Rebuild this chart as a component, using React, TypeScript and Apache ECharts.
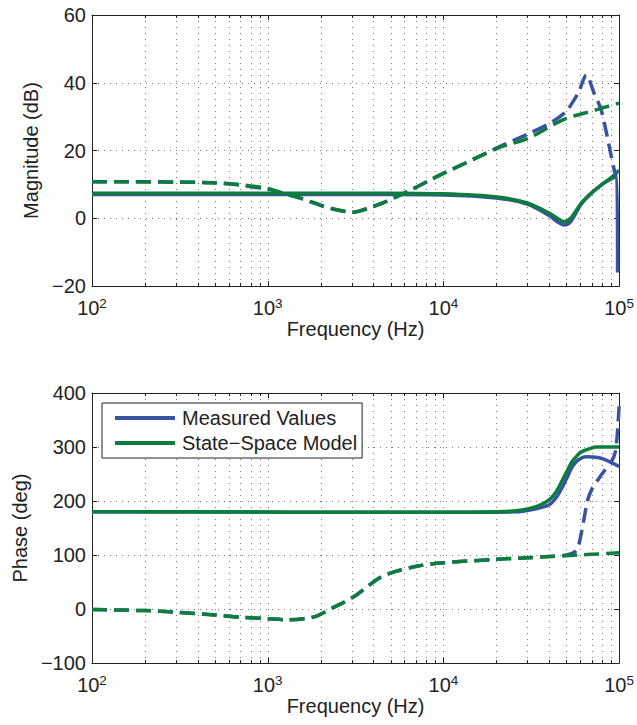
import React, { useEffect, useRef } from "react";
import * as echarts from "echarts";

// ---------- Data ----------
// Magnitude (dB), measured, solid
const magMeasSolidFreq = [100, 1000, 5000, 10000, 20000, 30000, 40000, 45000, 48700, 53000, 61000, 70000, 80000, 90000, 97000, 98000];
const magMeasSolidVal = [7.0, 7.0, 7.0, 6.9, 6.0, 4.2, 0.8, -1.2, -2.0, -1.0, 4.2, 7.5, 10.0, 11.6, 12.3, -16.0];
// Magnitude (dB), model, solid
const magModelSolidFreq = [100, 1000, 5000, 10000, 20000, 30000, 40000, 45000, 48700, 53000, 61000, 70000, 80000, 90000, 100000];
const magModelSolidVal = [7.4, 7.4, 7.4, 7.2, 6.3, 4.5, 1.5, -0.2, -1.0, 0.0, 4.5, 7.6, 10.0, 12.0, 14.2];
// Magnitude (dB), measured, dashed
const magMeasDashFreq = [100, 300, 500, 700, 800, 1000, 1220, 1520, 2000, 2340, 3050, 3700, 4500, 5500, 6200, 8000, 10000, 15000, 20000, 30700, 41500, 50000, 54000, 59000, 65000, 72000, 79000, 88000, 94000, 96000];
const magMeasDashVal = [10.8, 10.7, 10.4, 9.8, 9.3, 8.6, 7.4, 6.0, 3.8, 2.7, 1.8, 3.0, 4.5, 6.5, 7.8, 10.7, 13.3, 17.5, 20.7, 25.0, 28.4, 31.5, 34.0, 37.3, 42.3, 37.0, 32.0, 21.0, 14.0, 12.5];
// Magnitude (dB), model, dashed
const magModelDashFreq = [100, 500, 700, 1000, 1220, 1520, 2000, 2340, 3050, 4500, 6200, 8000, 10000, 20000, 30700, 47600, 74000, 100000];
const magModelDashVal = [10.8, 10.5, 9.9, 8.8, 7.4, 6.0, 3.9, 2.8, 1.8, 4.5, 7.8, 10.7, 13.2, 20.5, 23.7, 29.0, 32.0, 34.0];

// Phase (deg), measured, solid
const phMeasSolidFreq = [100, 10000, 26000, 34000, 40000, 44000, 47600, 51000, 54000, 58000, 65000, 77000, 88000, 100000];
const phMeasSolidVal = [180, 179, 180, 186, 193, 207, 226, 246, 263, 275, 282, 280, 273, 264];
// Phase (deg), model, solid
const phModelSolidFreq = [100, 10000, 20000, 26000, 34000, 40000, 44000, 47600, 51000, 54000, 58000, 61000, 68000, 74000, 100000];
const phModelSolidVal = [180, 179, 180, 182, 190, 202, 218, 239, 258, 273, 285, 291, 297, 300, 300];
// Phase (deg), measured, dashed
const phMeasDashFreq = [100, 200, 300, 500, 690, 1000, 1300, 1600, 1900, 2340, 2700, 3200, 4300, 5400, 7300, 9500, 20000, 30000, 40000, 50000, 55000, 58000, 60000, 63000, 66000, 70000, 76000, 82000, 90000, 95000, 98000, 100000];
const phMeasDashVal = [-1, -3, -6, -11, -15, -18, -20, -18, -13, 2, 12, 26, 57, 70, 80, 85, 92, 95, 97, 100, 104, 112, 130, 165, 200, 222, 240, 255, 272, 290, 330, 378];
// Phase (deg), model, dashed
const phModelDashFreq = [100, 200, 300, 500, 690, 1000, 1300, 1600, 1900, 2340, 2700, 3200, 4300, 5400, 7300, 9500, 20000, 30000, 40000, 52000, 100000];
const phModelDashVal = [-1, -3, -6, -11, -15, -18, -20, -18, -13, 2, 12, 26, 57, 70, 80, 85, 92, 95, 97, 99, 104];

// Axis ticks
const minorFreqs = [200, 300, 400, 500, 600, 700, 800, 900, 2000, 3000, 4000, 5000, 6000, 7000, 8000, 9000, 20000, 30000, 40000, 50000, 60000, 70000, 80000, 90000];
const majorFreqs = [1000, 10000];
const seriesNames = ["Measured Values", "State\u2212Space Model"];

const BLUE = "#3953a4";
const GREEN = "#0c7d3c";
const AXIS = "#222222";
const GRID = "#7a7a7a";
const FONT = "Liberation Sans, Arial, Helvetica, sans-serif";
const FS = 20;

const pairs = (f: number[], v: number[]) => f.map((x, i) => [x, v[i]]);

const fmtY = (v: number) => (v < 0 ? "\u2212" + Math.abs(v) : String(v));
const fmtX = (v: number) => "{b|10}{s|" + Math.round(Math.log10(v)) + "}";

const gridRender = (params: any, api: any) => {
  const f = api.value(0);
  const major = api.value(2) === 1;
  const cs = params.coordSys;
  const x = Math.round(api.coord([f, 0])[0]) + 0.5;
  const top = cs.y;
  const bot = cs.y + cs.height;
  const tl = major ? 5 : 3;
  return {
    type: "group",
    children: [
      { type: "line", shape: { x1: x, y1: top, x2: x, y2: bot }, style: { stroke: GRID, lineWidth: 1, lineDash: [1, 5] } },
      { type: "line", shape: { x1: x, y1: bot, x2: x, y2: bot - tl }, style: { stroke: AXIS, lineWidth: 1 } },
      { type: "line", shape: { x1: x, y1: top, x2: x, y2: top + tl }, style: { stroke: AXIS, lineWidth: 1 } },
    ],
  };
};

const gridData = [...minorFreqs.map((f) => [f, 0, 0]), ...majorFreqs.map((f) => [f, 0, 1])];

export default function App() {
  const ref = useRef<HTMLDivElement>(null);
  useEffect(() => {
    if (!ref.current) return;
    const chart = echarts.init(ref.current, null, { renderer: "svg" });

    const xBase = (gridIndex: number, position: "top" | "bottom", labels: boolean) => ({
      type: "log",
      logBase: 10,
      gridIndex,
      position,
      min: 100,
      max: 100000,
      name: labels ? "Frequency (Hz)" : "",
      nameLocation: "middle",
      nameGap: 33,
      nameTextStyle: { fontSize: FS, color: AXIS, fontFamily: FONT },
      axisLine: { show: true, onZero: false, lineStyle: { color: AXIS, width: 1 } },
      axisTick: { show: false },
      splitLine: { show: false },
      minorTick: { show: false },
      axisLabel: {
        show: labels,
        formatter: fmtX,
        margin: 10,
        color: AXIS,
        rich: {
          b: { fontSize: FS, lineHeight: 23, fontFamily: FONT, color: AXIS },
          s: { fontSize: 13.5, lineHeight: 14, verticalAlign: "top", fontFamily: FONT, color: AXIS },
        },
      },
    });

    const yBase = (gridIndex: number, position: "left" | "right", min: number, max: number, interval: number, name: string, nameGap: number) => ({
      type: "value",
      gridIndex,
      position,
      min,
      max,
      interval,
      name,
      nameLocation: "middle",
      nameGap,
      nameRotate: 90,
      nameTextStyle: { fontSize: FS, color: AXIS, fontFamily: FONT },
      axisLine: { show: true, onZero: false, lineStyle: { color: AXIS, width: 1 } },
      axisTick: { show: true, inside: true, length: 5, lineStyle: { color: AXIS } },
      splitLine: position === "left" ? { show: true, lineStyle: { color: GRID, type: [1, 5], width: 1 } } : { show: false },
      axisLabel: {
        show: position === "left",
        formatter: fmtY,
        margin: 6,
        fontSize: FS,
        color: AXIS,
        fontFamily: FONT,
      },
    });

    const line = (name: string, data: number[][], color: string, dashed: boolean, xi: number, yi: number) => ({
      type: "line",
      name,
      data,
      xAxisIndex: xi,
      yAxisIndex: yi,
      showSymbol: false,
      symbol: "none",
      smooth: 0.3,
      clip: true,
      z: 3,
      lineStyle: { color, width: 3.5, type: dashed ? [15, 7] : "solid", cap: "butt", join: "round" },
      itemStyle: { color },
      emphasis: { disabled: true },
      silent: true,
    });

    chart.setOption({
      animation: false,
      backgroundColor: "#ffffff",
      textStyle: { fontFamily: FONT },
      grid: [
        { left: 92, top: 15, width: 528, height: 271 },
        { left: 92, top: 393, width: 528, height: 270 },
      ],
      xAxis: [xBase(0, "bottom", true), xBase(0, "top", false), xBase(1, "bottom", true), xBase(1, "top", false)],
      yAxis: [
        yBase(0, "left", -20, 60, 20, "Magnitude (dB)", 50),
        yBase(0, "right", -20, 60, 20, "", 0),
        yBase(1, "left", -100, 400, 100, "Phase (deg)", 59),
        yBase(1, "right", -100, 400, 100, "", 0),
      ],
      legend: {
        data: seriesNames,
        orient: "vertical",
        left: 102,
        top: 403,
        padding: [5, 5, 5, 13],
        itemGap: 5,
        itemWidth: 60,
        itemHeight: 4,
        icon: "rect",
        borderColor: AXIS,
        borderWidth: 1,
        backgroundColor: "#ffffff",
        selectedMode: false,
        textStyle: { fontSize: FS, lineHeight: 20, color: AXIS, fontFamily: FONT, padding: [0, 0, 0, 2] },
      },
      series: [
        { type: "custom", renderItem: gridRender, data: gridData, xAxisIndex: 0, yAxisIndex: 0, encode: { x: 0, y: 1 }, z: 1, silent: true },
        { type: "custom", renderItem: gridRender, data: gridData, xAxisIndex: 2, yAxisIndex: 2, encode: { x: 0, y: 1 }, z: 1, silent: true },
        line(seriesNames[0], pairs(magMeasSolidFreq, magMeasSolidVal), BLUE, false, 0, 0),
        line(seriesNames[1], pairs(magModelSolidFreq, magModelSolidVal), GREEN, false, 0, 0),
        line(seriesNames[0] + " (dashed)", pairs(magMeasDashFreq, magMeasDashVal), BLUE, true, 0, 0),
        line(seriesNames[1] + " (dashed)", pairs(magModelDashFreq, magModelDashVal), GREEN, true, 0, 0),
        line(seriesNames[0], pairs(phMeasSolidFreq, phMeasSolidVal), BLUE, false, 2, 2),
        line(seriesNames[1], pairs(phModelSolidFreq, phModelSolidVal), GREEN, false, 2, 2),
        line(seriesNames[0] + " (dashed)", pairs(phMeasDashFreq, phMeasDashVal), BLUE, true, 2, 2),
        line(seriesNames[1] + " (dashed)", pairs(phModelDashFreq, phModelDashVal), GREEN, true, 2, 2),
      ],
    });
    return () => chart.dispose();
  }, []);
  return <div ref={ref} style={{ position: "absolute", left: 0, top: 0, width: 637, height: 725 }} />;
}
